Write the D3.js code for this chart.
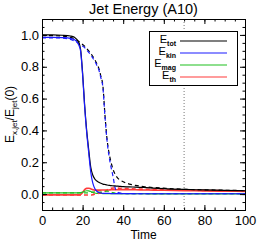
<!DOCTYPE html>
<html>
<head>
<meta charset="utf-8">
<script src="https://cdn.jsdelivr.net/npm/d3@7"></script>
<style>
  body { margin: 0; background: #fff; }
  svg text { font-family: "Liberation Sans", Arial, sans-serif; }
</style>
</head>
<body>
<div id="chart"></div>
<script>
const width = 266;
const height = 247;
const margin = {top: 19, right: 21, bottom: 37, left: 42};

// shared time samples
const time = [0, 5, 10, 14, 16, 18, 19, 20, 21, 22, 23, 24, 25, 26, 27, 28, 29, 30, 31, 32, 33, 34, 35, 36, 37, 38, 40, 43, 46, 50, 55, 60, 70, 80, 90, 100];

// solid runs
const totSolid = [1.0, 1.0, 0.998, 0.993, 0.985, 0.955, 0.91, 0.76, 0.56, 0.40, 0.28, 0.17, 0.12, 0.095, 0.082, 0.074, 0.068, 0.063, 0.06, 0.057, 0.055, 0.053, 0.052, 0.051, 0.05, 0.049, 0.047, 0.045, 0.044, 0.042, 0.038, 0.034, 0.029, 0.026, 0.023, 0.021];
const kinSolid = [0.985, 0.985, 0.983, 0.978, 0.97, 0.94, 0.9, 0.75, 0.55, 0.39, 0.26, 0.14, 0.07, 0.035, 0.018, 0.01, 0.007, 0.005, 0.004, 0.004, 0.004, 0.003, 0.003, 0.003, 0.003, 0.003, 0.003, 0.003, 0.002, 0.002, 0.002, 0.002, 0.002, 0.002, 0.002, 0.002];
const magSolid = [0.008, 0.008, 0.008, 0.008, 0.008, 0.008, 0.009, 0.012, 0.018, 0.021, 0.02, 0.016, 0.011, 0.007, 0.005, 0.004, 0.004, 0.003, 0.003, 0.003, 0.003, 0.003, 0.003, 0.002, 0.002, 0.002, 0.002, 0.002, 0.002, 0.002, 0.001, 0.001, 0.001, 0.001, 0.001, 0.001];
const thSolid = [-0.005, -0.005, -0.005, -0.005, -0.005, -0.005, -0.002, 0.01, 0.028, 0.036, 0.037, 0.033, 0.028, 0.025, 0.025, 0.025, 0.025, 0.026, 0.026, 0.026, 0.026, 0.027, 0.027, 0.027, 0.027, 0.028, 0.028, 0.028, 0.027, 0.026, 0.025, 0.024, 0.022, 0.02, 0.018, 0.017];

// dashed runs
const totDashed = [0.995, 0.995, 0.993, 0.985, 0.975, 0.96, 0.95, 0.94, 0.93, 0.915, 0.9, 0.885, 0.865, 0.845, 0.82, 0.79, 0.74, 0.68, 0.5, 0.35, 0.26, 0.2, 0.155, 0.125, 0.105, 0.092, 0.078, 0.063, 0.055, 0.047, 0.041, 0.037, 0.03, 0.027, 0.024, 0.022];
const kinDashed = [0.982, 0.982, 0.98, 0.972, 0.962, 0.948, 0.94, 0.93, 0.92, 0.905, 0.89, 0.875, 0.855, 0.835, 0.81, 0.78, 0.73, 0.67, 0.49, 0.34, 0.24, 0.17, 0.11, 0.04, 0.015, 0.008, 0.004, 0.003, 0.003, 0.002, 0.002, 0.002, 0.002, 0.002, 0.002, 0.002];
const magDashed = [0.007, 0.007, 0.007, 0.007, 0.007, 0.007, 0.007, 0.007, 0.007, 0.007, 0.008, 0.01, 0.013, 0.014, 0.013, 0.012, 0.012, 0.013, 0.016, 0.018, 0.017, 0.013, 0.009, 0.006, 0.005, 0.004, 0.003, 0.003, 0.002, 0.002, 0.002, 0.002, 0.002, 0.002, 0.002, 0.002];
const thDashed = [-0.006, -0.006, -0.006, -0.006, -0.006, -0.006, -0.006, -0.006, -0.006, -0.006, -0.006, -0.006, -0.004, 0.0, 0.003, 0.006, 0.009, 0.012, 0.018, 0.025, 0.032, 0.036, 0.038, 0.038, 0.038, 0.037, 0.035, 0.034, 0.032, 0.031, 0.03, 0.028, 0.025, 0.023, 0.021, 0.02];

const legendNames = ["tot", "kin", "mag", "th"];
const xTicks = [0, 20, 40, 60, 80, 100];
const yTicks = [0.0, 0.2, 0.4, 0.6, 0.8, 1.0];
const markTime = 70;

const colors = {tot: "#000000", kin: "#1a1aff", mag: "#1fbf1f", th: "#ff3b3b"};

const series = [
    {key: "th", values: thSolid, dashed: false},
    {key: "mag", values: magSolid, dashed: false},
    {key: "th", values: thDashed, dashed: true},
    {key: "mag", values: magDashed, dashed: true},
    {key: "tot", values: totDashed, dashed: true},
    {key: "kin", values: kinDashed, dashed: true},
    {key: "tot", values: totSolid, dashed: false},
    {key: "kin", values: kinSolid, dashed: false}
];

const svg = d3.select('#chart')
    .append('svg')
    .attr('width', width)
    .attr('height', height);

const x = d3.scaleLinear().domain([0, 100]).range([margin.left, width - margin.right]);
const y = d3.scaleLinear().domain([-0.1, 1.1]).range([height - margin.bottom, margin.top]);

svg.append('defs').append('clipPath').attr('id', 'clip')
    .append('rect')
    .attr('x', x(0)).attr('y', y(1.1))
    .attr('width', x(100) - x(0)).attr('height', y(-0.1) - y(1.1));

// dotted marker
svg.append('line')
    .attr('x1', x(markTime)).attr('x2', x(markTime))
    .attr('y1', y(1.1)).attr('y2', y(-0.1))
    .attr('stroke', '#555')
    .attr('stroke-width', 0.8)
    .attr('stroke-dasharray', '1,2');

const line = d3.line()
    .x((d, i) => x(time[i]))
    .y(d => y(d))
    .curve(d3.curveMonotoneX);

svg.append('g').attr('clip-path', 'url(#clip)')
    .selectAll('path')
    .data(series)
    .enter().append('path')
    .attr('d', d => line(d.values))
    .attr('fill', 'none')
    .attr('stroke', d => colors[d.key])
    .attr('stroke-width', d => d.key == "th" ? 1.6 : 1.2)
    .attr('stroke-dasharray', d => d.dashed ? '4,3' : null);

// axes with inward ticks
const xMinor = d3.range(0, 101, 5);
const yMinor = d3.range(-0.1, 1.1001, 0.05);

function styleAxis(g) {
    g.select('.domain').attr('stroke', '#000').attr('stroke-width', 1);
    g.selectAll('.tick line').attr('stroke', '#000');
    g.selectAll('.tick text').attr('font-size', 13).attr('fill', '#000')
        .attr('font-family', '"Liberation Sans", Arial, sans-serif');
}

svg.append('g').attr('transform', `translate(0,${y(-0.1)})`)
    .call(d3.axisBottom(x).tickValues(xTicks).tickSize(-5).tickPadding(6).tickFormat(d3.format('d')))
    .call(styleAxis);
svg.append('g').attr('transform', `translate(0,${y(-0.1)})`)
    .call(d3.axisBottom(x).tickValues(xMinor).tickSize(-2.5).tickFormat(''))
    .call(styleAxis);
svg.append('g').attr('transform', `translate(0,${y(1.1)})`)
    .call(d3.axisTop(x).tickValues(xTicks).tickSize(-5).tickFormat(''))
    .call(styleAxis);
svg.append('g').attr('transform', `translate(0,${y(1.1)})`)
    .call(d3.axisTop(x).tickValues(xMinor).tickSize(-2.5).tickFormat(''))
    .call(styleAxis);

svg.append('g').attr('transform', `translate(${x(0)},0)`)
    .call(d3.axisLeft(y).tickValues(yTicks).tickSize(-5).tickPadding(3).tickFormat(d3.format('.1f')))
    .call(styleAxis);
svg.append('g').attr('transform', `translate(${x(0)},0)`)
    .call(d3.axisLeft(y).tickValues(yMinor).tickSize(-2.5).tickFormat(''))
    .call(styleAxis);
svg.append('g').attr('transform', `translate(${x(100)},0)`)
    .call(d3.axisRight(y).tickValues(yTicks).tickSize(-5).tickFormat(''))
    .call(styleAxis);
svg.append('g').attr('transform', `translate(${x(100)},0)`)
    .call(d3.axisRight(y).tickValues(yMinor).tickSize(-2.5).tickFormat(''))
    .call(styleAxis);

// title and labels
svg.append('text')
    .attr('x', (x(0) + x(100)) / 2)
    .attr('y', 14)
    .attr('text-anchor', 'middle')
    .attr('font-size', 14.5)
    .text('Jet Energy (A10)');

svg.append('text')
    .attr('x', (x(0) + x(100)) / 2)
    .attr('y', 239)
    .attr('text-anchor', 'middle')
    .attr('font-size', 12)
    .text('Time');

const ylab = svg.append('text')
    .attr('transform', `translate(14,${(y(-0.1) + y(1.1)) / 2}) rotate(-90)`)
    .attr('text-anchor', 'middle')
    .attr('font-size', 12);
ylab.append('tspan').text('E');
ylab.append('tspan').attr('font-size', 8).attr('dy', 3).text('x,jet');
ylab.append('tspan').attr('dy', -3).text('/E');
ylab.append('tspan').attr('font-size', 8).attr('dy', 3).text('jet');
ylab.append('tspan').attr('dy', -3).text('(0)');

// legend
const legend = svg.append('g');
legend.append('rect')
    .attr('x', 149.5).attr('y', 31.5)
    .attr('width', 88).attr('height', 54)
    .attr('fill', '#fff')
    .attr('stroke', '#000')
    .attr('stroke-width', 1);

const item = legend.selectAll('.item')
    .data(legendNames)
    .enter().append('g')
    .attr('class', 'item')
    .attr('transform', (d, i) => `translate(0,${41 + i * 12})`);

item.append('line')
    .attr('x1', 180).attr('x2', 227)
    .attr('stroke', d => colors[d])
    .attr('stroke-width', 1.2);

const lt = item.append('text')
    .attr('x', 176)
    .attr('y', 2)
    .attr('text-anchor', 'end')
    .attr('font-size', 11);
lt.append('tspan').text('E');
lt.append('tspan').attr('font-size', 7).attr('dy', 2.5).attr('font-weight', 'bold').text(d => d);
</script>
</body>
</html>
